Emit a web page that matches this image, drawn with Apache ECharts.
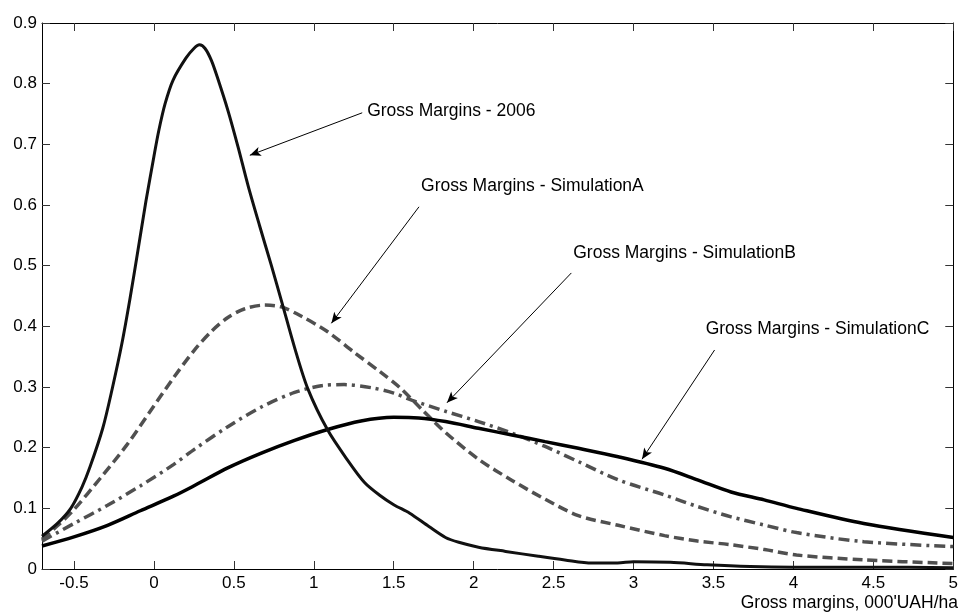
<!DOCTYPE html>
<html>
<head>
<meta charset="utf-8">
<script src="https://cdn.jsdelivr.net/npm/echarts@6/dist/echarts.min.js"></script>
<style>
html,body{margin:0;padding:0;background:#fff;}
#c{width:961px;height:615px;}
</style>
</head>
<body>
<div id="c"></div>
<script>
// ---- data ----
var xTicks = [-0.5, 0, 0.5, 1, 1.5, 2, 2.5, 3, 3.5, 4, 4.5, 5];
var yTicks = [0, 0.1, 0.2, 0.3, 0.4, 0.5, 0.6, 0.7, 0.8, 0.9];
var xAxisTitle = "Gross margins, 000'UAH/ha";

var x2006 = [-0.7, -0.6, -0.52, -0.45, -0.40, -0.32, -0.26, -0.20, -0.15, -0.10, -0.05, 0, 0.03, 0.07, 0.12, 0.20, 0.25, 0.285, 0.32, 0.36, 0.40, 0.465, 0.527, 0.589, 0.662, 0.735, 0.80, 0.88, 0.963, 1.087, 1.21, 1.316, 1.41, 1.5, 1.6, 1.72, 1.824, 1.907, 2.03, 2.2, 2.405, 2.57, 2.74, 2.9, 3.0, 3.23, 3.46, 3.73, 4.0, 4.5, 5.0];
var y2006 = [0.054, 0.076, 0.100, 0.135, 0.168, 0.232, 0.298, 0.372, 0.445, 0.525, 0.606, 0.680, 0.722, 0.767, 0.806, 0.842, 0.858, 0.864, 0.858, 0.838, 0.808, 0.754, 0.695, 0.632, 0.565, 0.500, 0.440, 0.365, 0.297, 0.229, 0.180, 0.143, 0.122, 0.106, 0.092, 0.070, 0.052, 0.044, 0.036, 0.029, 0.021, 0.015, 0.010, 0.010, 0.012, 0.011, 0.007, 0.004, 0.003, 0.003, 0.002];

var xSimA = [-0.7, -0.6, -0.5, -0.334, -0.168, -0.023, 0.122, 0.257, 0.361, 0.465, 0.569, 0.693, 0.797, 0.92, 1.087, 1.253, 1.42, 1.534, 1.68, 1.824, 2.03, 2.24, 2.447, 2.655, 2.904, 3.194, 3.40, 3.61, 3.82, 4.02, 4.44, 5.0];
var ySimA = [0.049, 0.072, 0.098, 0.150, 0.205, 0.260, 0.315, 0.362, 0.392, 0.415, 0.429, 0.435, 0.432, 0.417, 0.391, 0.357, 0.324, 0.300, 0.262, 0.225, 0.181, 0.146, 0.115, 0.088, 0.072, 0.055, 0.046, 0.040, 0.032, 0.023, 0.015, 0.009];

var xSimB = [-0.7, -0.5, -0.29, -0.085, 0.122, 0.257, 0.465, 0.672, 0.88, 1.046, 1.19, 1.357, 1.50, 1.616, 1.824, 2.03, 2.24, 2.447, 2.655, 2.904, 3.194, 3.40, 3.61, 3.817, 4.02, 4.44, 5.0];
var ySimB = [0.046, 0.075, 0.105, 0.137, 0.172, 0.198, 0.235, 0.267, 0.291, 0.302, 0.304, 0.299, 0.290, 0.278, 0.260, 0.243, 0.224, 0.202, 0.177, 0.147, 0.122, 0.103, 0.086, 0.0725, 0.060, 0.045, 0.037];

var xSimC = [-0.7, -0.5, -0.29, -0.085, 0.122, 0.257, 0.465, 0.672, 0.88, 1.087, 1.295, 1.5, 1.656, 1.824, 2.03, 2.24, 2.447, 2.655, 2.904, 3.194, 3.40, 3.61, 3.817, 4.02, 4.44, 5.0];
var ySimC = [0.038, 0.053, 0.072, 0.096, 0.120, 0.138, 0.167, 0.191, 0.212, 0.230, 0.244, 0.250, 0.249, 0.243, 0.232, 0.221, 0.210, 0.199, 0.185, 0.166, 0.147, 0.127, 0.114, 0.100, 0.075, 0.052];

// annotations (data coordinates): label, text anchor, arrow tail, arrow head
var annLabels = ["Gross Margins - 2006", "Gross Margins - SimulationA", "Gross Margins - SimulationB", "Gross Margins - SimulationC"];
var annTextAt = [[1.334, 0.753], [1.671, 0.630], [2.623, 0.519], [3.451, 0.394]];
var annTail = [[1.303, 0.752], [1.658, 0.597], [2.611, 0.488], [3.507, 0.361]];
var annHead = [[0.600, 0.682], [1.110, 0.405], [1.833, 0.274], [3.053, 0.181]];

// ---- chart ----
function zip(xs, ys) { return xs.map(function (x, i) { return [x, ys[i]]; }); }
function fmt(v) { return String(Math.round(v * 10) / 10); }
var FONT = "'Liberation Sans', Arial, sans-serif";
var FS = 17;
var FS_ANN = 17.5;

var chart = echarts.init(document.getElementById('c'), null, { renderer: 'canvas' });

var axisCommon = {
  type: 'value',
  axisLine: { show: true, onZero: false, lineStyle: { color: '#000', width: 1 } },
  axisTick: { show: true, inside: true, length: 8, lineStyle: { color: '#333', width: 1 } },
  splitLine: { show: false }
};

var arrowData = annTail.map(function (t, i) {
  return [{ coord: t }, { coord: annHead[i] }];
});

var lineCommon = { type: 'line', showSymbol: false, smooth: 0.3, clip: true };

chart.setOption({
  animation: false,
  backgroundColor: '#fff',
  grid: { left: 42, right: 4, top: 23, bottom: 46, show: false },
  xAxis: [
    Object.assign({}, axisCommon, {
      position: 'bottom', min: -0.7, max: 5,
      axisTick: Object.assign({}, axisCommon.axisTick, { customValues: xTicks }),
      axisLabel: { show: true, customValues: xTicks, formatter: fmt, color: '#000', fontSize: FS, fontFamily: FONT, margin: 6 }
    }),
    Object.assign({}, axisCommon, {
      position: 'top', min: -0.7, max: 5,
      axisTick: Object.assign({}, axisCommon.axisTick, { customValues: xTicks }),
      axisLabel: { show: false, customValues: xTicks }
    })
  ],
  yAxis: [
    Object.assign({}, axisCommon, {
      position: 'left', min: 0, max: 0.9, interval: 0.1,
      axisLabel: { show: true, formatter: fmt, color: '#000', fontSize: FS, fontFamily: FONT, margin: 5 }
    }),
    Object.assign({}, axisCommon, {
      position: 'right', min: 0, max: 0.9, interval: 0.1,
      axisLabel: { show: false }
    })
  ],
  series: [
    Object.assign({}, lineCommon, {
      name: 'Gross Margins - 2006', data: zip(x2006, y2006),
      lineStyle: { color: '#111', width: 3 },
      markLine: {
        silent: true, symbol: ['none', 'arrow'], symbolSize: [7, 11],
        label: { show: false },
        lineStyle: { color: '#000', width: 1, type: 'solid' },
        emphasis: { disabled: true },
        data: arrowData
      },
      z: 5
    }),
    Object.assign({}, lineCommon, {
      name: 'Gross Margins - SimulationA', data: zip(xSimA, ySimA),
      lineStyle: { color: '#505050', width: 3.5, type: [10, 5] },
      z: 3
    }),
    Object.assign({}, lineCommon, {
      name: 'Gross Margins - SimulationB', data: zip(xSimB, ySimB),
      lineStyle: { color: '#505050', width: 3.5, type: [11, 5, 3, 5] },
      z: 3
    }),
    Object.assign({}, lineCommon, {
      name: 'Gross Margins - SimulationC', data: zip(xSimC, ySimC),
      lineStyle: { color: '#000', width: 3.5 },
      z: 4
    })
  ]
});

// annotation texts positioned through the chart's own coordinate system
var gElems = annLabels.map(function (t, i) {
  var p = chart.convertToPixel({ gridIndex: 0 }, annTextAt[i]);
  return {
    type: 'text', left: p[0], top: p[1] - FS_ANN / 2 - 1, z: 10,
    style: { text: t, fill: '#000', font: FS_ANN + 'px ' + FONT }
  };
});
var grid = chart.getModel().getComponent('grid', 0).coordinateSystem.getRect();
gElems.push({
  type: 'text', right: 3, top: grid.y + grid.height + 25, z: 10,
  style: { text: xAxisTitle, fill: '#000', font: FS_ANN + 'px ' + FONT }
});
chart.setOption({ graphic: gElems });
</script>
</body>
</html>
